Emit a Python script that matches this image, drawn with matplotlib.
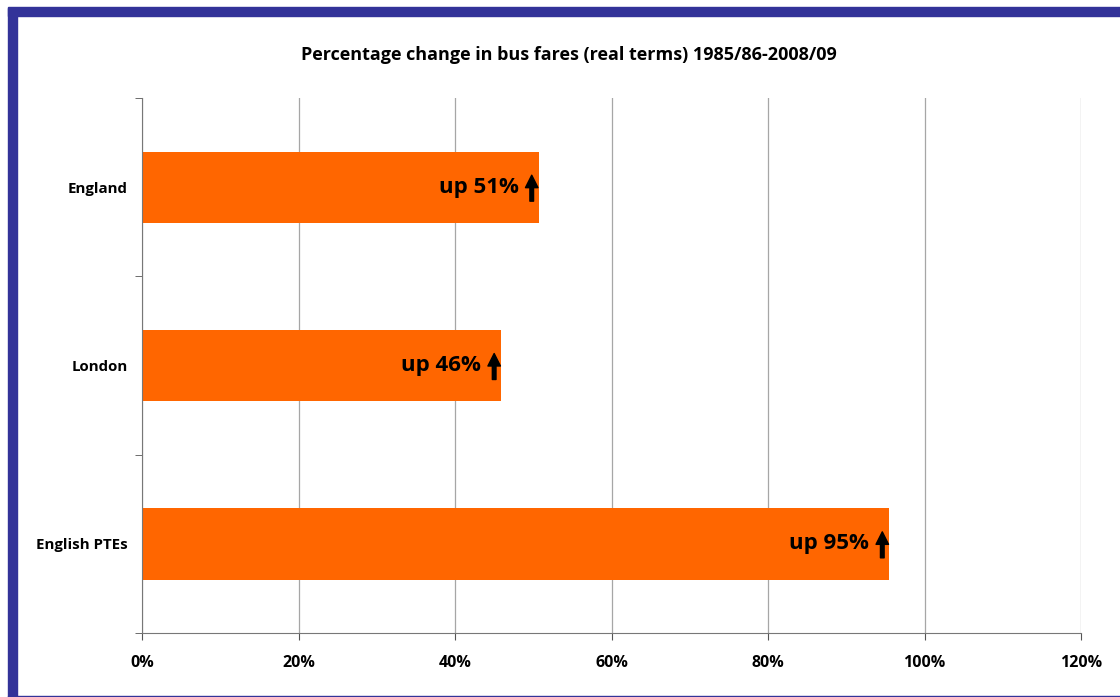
import matplotlib.pyplot as plt
from matplotlib.patches import Rectangle
from matplotlib.transforms import offset_copy

# data
regions = ["England", "London", "English PTEs"]
change = [50.7, 45.9, 95.5]
labels = ["up 51%", "up 46%", "up 95%"]
xticks = [0, 20, 40, 60, 80, 100, 120]

plt.rcParams['font.family'] = ['Open Sans', 'DejaVu Sans']

W, H = 1120, 697
fig = plt.figure(figsize=(W / 100, H / 100), dpi=100)
ax = fig.add_axes([142 / W, 1 - 633 / H, (1081 - 142) / W, (633 - 98) / H])

# frame around the chart (blue bands top/left, thin line at bottom)
blue = "#333399"
fig.patches.append(Rectangle((8 / W, 1 - 16 / H), 1, 9 / H, transform=fig.transFigure,
                             color=blue, zorder=0))
fig.patches.append(Rectangle((8 / W, 0), 9 / W, 1 - 8 / H, transform=fig.transFigure,
                             color=blue, zorder=0))
fig.patches.append(Rectangle((8 / W, 0), 1, 1.5 / H, transform=fig.transFigure,
                             color=blue, zorder=0))

pos = list(range(len(regions)))
ax.barh(pos, change, height=0.4, color="#FF6600", zorder=2)
ax.set_ylim(len(regions) - 0.5, -0.5)
ax.set_xlim(0, 120)

# value labels: text plus a drawn up-arrow near the bar end
txt_tr = offset_copy(ax.transData, fig=fig, x=-20, y=0, units="dots")
head_tr = offset_copy(ax.transData, fig=fig, x=-7, y=12, units="dots")
tail_tr = offset_copy(ax.transData, fig=fig, x=-7, y=-14, units="dots")
for p, v, lab in zip(pos, change, labels):
    ax.text(v, p, lab, transform=txt_tr, ha="right", va="center", fontsize=16,
            fontweight="bold", color="black", zorder=3)
    ax.annotate("", xy=(v, p), xycoords=head_tr, xytext=(v, p), textcoords=tail_tr,
                arrowprops=dict(arrowstyle="simple,head_length=0.75,head_width=0.75,tail_width=0.22",
                                mutation_scale=12, color="black", shrinkA=0, shrinkB=0),
                zorder=3)

ax.set_xticks(xticks)
ax.set_xticklabels([f"{t}%" for t in xticks], fontsize=11.5, fontweight="bold")
ax.set_yticks(pos)
ax.set_yticklabels(regions, fontsize=10.8, fontweight="bold")
ax.tick_params(axis="y", length=0, pad=10)
ax.set_yticks([-0.5, 0.5, 1.5, 2.5], minor=True)
ax.tick_params(axis="y", which="minor", length=5, color="#555555")
ax.tick_params(axis="x", length=5, color="#555555", pad=11)

ax.grid(axis="x", color="#a6a6a6", linewidth=0.9, zorder=0)
ax.set_axisbelow(True)
for s in ["top", "right"]:
    ax.spines[s].set_visible(False)
for s in ["left", "bottom"]:
    ax.spines[s].set_color("#777777")

fig.text(569 / W, 1 - 55 / H,
         "Percentage change in bus fares (real terms) 1985/86-2008/09",
         ha="center", va="center", fontsize=13, fontweight="bold")

fig.savefig("out.png", dpi=100)
